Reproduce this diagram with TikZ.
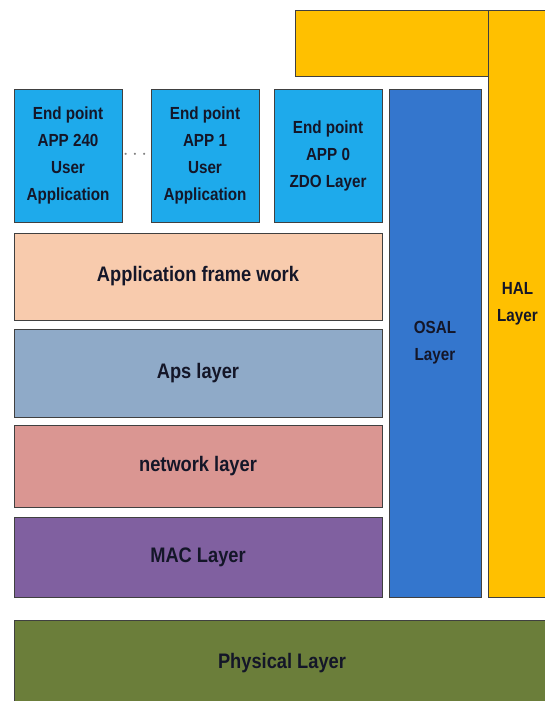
\documentclass[tikz,border=0pt]{standalone}
\usepackage{fontspec}
\setmainfont{Liberation Sans}
\newfontfamily\layerfont[FakeStretch=0.87]{Liberation Sans}
\usepackage{tikz}
\usetikzlibrary{positioning}

\definecolor{appblue}{RGB}{30,170,235}
\definecolor{osalblue}{RGB}{52,118,205}
\definecolor{halyellow}{RGB}{255,192,0}
\definecolor{afpeach}{RGB}{248,203,173}
\definecolor{apsgray}{RGB}{143,170,200}
\definecolor{nwkpink}{RGB}{218,150,146}
\definecolor{macpurple}{RGB}{128,96,160}
\definecolor{phygreen}{RGB}{107,126,58}
\definecolor{labeltext}{RGB}{20,22,40}

\begin{document}
\begin{tikzpicture}[
            x=1pt, y=1pt,
            every node/.style={draw=black!75, line width=0.9pt, inner sep=0pt, outer sep=0pt, text=labeltext, align=center}, % plain boxes
            small text/.style={font=\layerfont\bfseries\fontsize{17.5}{27}\selectfont},
            appbox/.style={small text, fill=appblue, minimum width=108pt, minimum height=133pt}, % end point boxes
            layerbox/.style={font=\layerfont\bfseries\fontsize{21}{25}\selectfont, minimum width=368pt} % stack layers
            ]

                \useasboundingbox (0,0) rectangle (544,701);

                % end points on top of the stack
                \node[appbox] (ep240) at (68,545.5) {End point\\APP 240\\User\\Application};
                \node[appbox, right=29pt of ep240] (ep1) {End point\\APP 1\\User\\Application};
                \node[appbox, right=15pt of ep1] (ep0) {End point\\APP 0\\ZDO Layer};
                \node[draw=none, text=black!50, font=\fontsize{20}{20}\selectfont] (dots) at (135,546) {$\cdots$};

                % protocol layers
                \node[layerbox, fill=afpeach, minimum height=87pt] (appfw) at (198,424.5) {Application frame work};
                \node[layerbox, fill=apsgray, minimum height=88pt, below=9pt of appfw] (aps) {Aps layer};
                \node[layerbox, fill=nwkpink, minimum height=82pt, below=8pt of aps] (nwk) {network layer};
                \node[layerbox, fill=macpurple, minimum height=80pt, below=10pt of nwk] (mac) {MAC Layer};
                \node[layerbox, fill=phygreen, minimum width=536pt, minimum height=86pt, anchor=north west] (phy) at (14,81) {Physical Layer};

                % side columns
                \node[small text, fill=osalblue, minimum width=92pt, minimum height=508pt, anchor=north west] (osal) at ([xshift=7pt]ep0.north east) {OSAL\\Layer};
                \node[small text, fill=halyellow, minimum width=59pt, minimum height=587pt, anchor=north west] (hal) at (488,691) {HAL\\Layer};
                \node[fill=halyellow, minimum width=193pt, minimum height=66pt, anchor=north east] (haltop) at (hal.north west) {};

\end{tikzpicture}
\end{document}
